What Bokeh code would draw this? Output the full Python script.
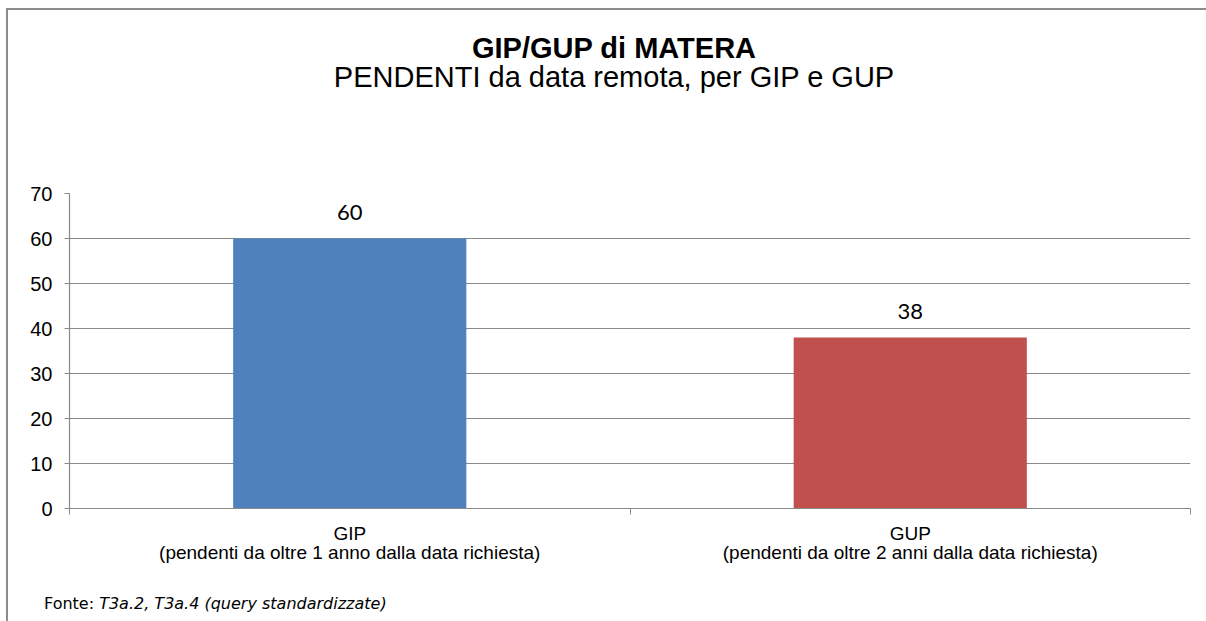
from bokeh.plotting import figure
from bokeh.models import (Range1d, FixedTicker, ColumnDataSource, LabelSet, Div)
from bokeh.layouts import column
from bokeh.core.properties import value
from bokeh.embed import file_html
from bokeh.resources import INLINE

# ---- data ----
categories = ["GIP\n(pendenti da oltre 1 anno dalla data richiesta)",
              "GUP\n(pendenti da oltre 2 anni dalla data richiesta)"]
values = [60, 38]
bar_colors = ["#4F81BD", "#C0504D"]
y_ticks = [0, 10, 20, 30, 40, 50, 60, 70]
title_text = "GIP/GUP di MATERA"
subtitle_text = "PENDENTI da data remota, per GIP e GUP"
source_prefix = "Fonte: "
source_text = "T3a.2, T3a.4 (query standardizzate)"

n = len(categories)
xpos = [i + 0.5 for i in range(n)]
src = ColumnDataSource(dict(x=xpos, top=values, color=bar_colors,
                            label=[str(v) for v in values]))

GREY = "#898989"

header = Div(
    text=('<div style="padding-top:19px;padding-left:24px;text-align:center;width:1178px">'
          f'<div style="font-family:\'Liberation Sans\';font-weight:bold;font-size:29px;'
          f'line-height:29px;color:#000">{title_text}</div>'
          f'<div style="font-family:\'Liberation Sans\';font-weight:normal;font-size:29px;'
          f'line-height:28px;color:#000">{subtitle_text}</div></div>'),
    width=1190, height=100)

p = figure(width=1190, height=468, output_backend="svg", toolbar_location=None,
           x_range=Range1d(0, n), y_range=Range1d(0, 70),
           min_border_left=61, min_border_right=8, min_border_top=73,
           min_border_bottom=80)
p.outline_line_color = None
p.background_fill_color = "white"
p.border_fill_color = "white"

p.vbar(x="x", top="top", width=0.416, bottom=0, color="color", line_color=None, source=src)

labels = LabelSet(x="x", y="top", text="label", source=src, y_offset=26,
                  text_align="center", text_baseline="middle",
                  text_font=value("Lato"), text_font_size=value("22px"),
                  text_color="#000000")
p.add_layout(labels)

# grid / axes
p.xgrid.visible = False
p.ygrid.ticker = FixedTicker(ticks=y_ticks)
p.ygrid.grid_line_color = GREY
p.ygrid.grid_line_width = 1.2

p.yaxis.ticker = FixedTicker(ticks=y_ticks)
p.yaxis.axis_line_color = GREY
p.yaxis.axis_line_width = 1.2
p.yaxis.major_tick_line_color = GREY
p.yaxis.major_tick_out = 5
p.yaxis.major_tick_in = 0
p.yaxis.minor_tick_line_color = None
p.yaxis.major_label_standoff = 12
p.yaxis.major_label_text_font = "Liberation Sans"
p.yaxis.major_label_text_font_size = "20px"
p.yaxis.major_label_text_color = "#000000"

p.xaxis.ticker = FixedTicker(ticks=xpos, minor_ticks=list(range(n + 1)))
p.xaxis.major_label_overrides = {x: c for x, c in zip(xpos, categories)}
p.xaxis.axis_line_color = GREY
p.xaxis.axis_line_width = 1.2
p.xaxis.major_tick_line_color = None
p.xaxis.major_tick_out = 0
p.xaxis.major_tick_in = 0
p.xaxis.minor_tick_line_color = GREY
p.xaxis.minor_tick_out = 6
p.xaxis.minor_tick_in = 0
p.xaxis.major_label_standoff = 8
p.xaxis.major_label_text_font = "Liberation Sans"
p.xaxis.major_label_text_font_size = "19px"
p.xaxis.major_label_text_line_height = 0.92
p.xaxis.major_label_text_color = "#000000"

note = Div(text=f"{source_prefix}<i>{source_text}</i>", width=1190, height=24,
           styles={"font-family": "DejaVu Sans", "font-size": "16px",
                   "color": "#000000", "padding-left": "31px"})

layout = column(header, p, note, spacing=0,
                styles={"margin-left": "6px", "margin-top": "8px",
                        "border-left": "2px solid #8c8c8c",
                        "border-top": "2px solid #8c8c8c",
                        "background-color": "white"})

open("out.html", "w").write(file_html(layout, INLINE))
